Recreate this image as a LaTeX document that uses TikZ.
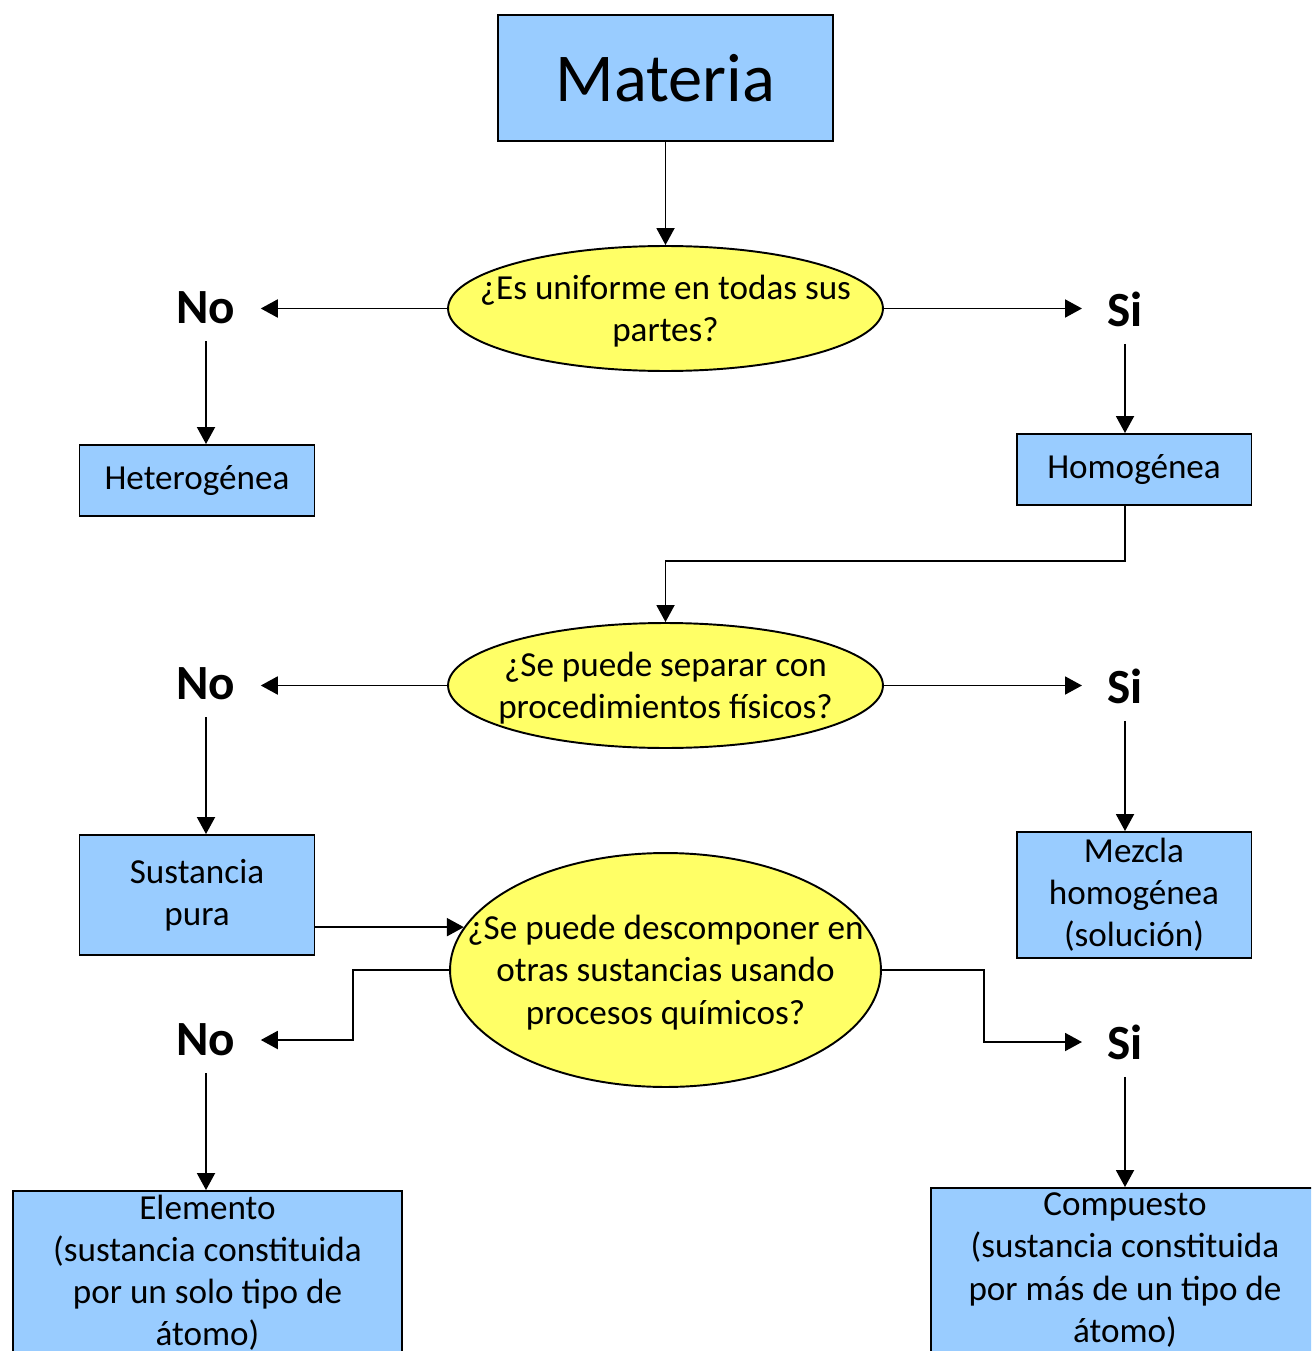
\documentclass[tikz,border=0pt]{standalone}
\usepackage{fontspec}
\setmainfont{Carlito}
\usetikzlibrary{shapes.geometric,arrows.meta}
\definecolor{boxblue}{RGB}{153,204,255}
\definecolor{ovalyellow}{RGB}{255,255,102}

\begin{document}
\begin{tikzpicture}[x=0.02cm,y=-0.02cm,
  box/.style={draw,line width=1.1pt,fill=boxblue,inner sep=0pt,align=center,font=\fontsize{20}{24}\selectfont},
  oval/.style={draw,ellipse,line width=1.1pt,fill=ovalyellow,inner sep=0pt},
  txt/.style={align=center,yshift=-0.05cm,font=\fontsize{20}{24}\selectfont},
  answer/.style={inner xsep=0.5cm,inner ysep=0.34cm,font=\fontsize{28}{34}\selectfont\bfseries},
  arr/.style={line width=1.1pt,-{Triangle[length=0.34cm,width=0.36cm]}}]
  \useasboundingbox (0,0) rectangle (1311,1351);
  \clip (0,0) rectangle (1311,1351);

  \node[name=materia,box,minimum width=6.7cm,minimum height=2.52cm,font=\fontsize{39}{47}\selectfont] at (665.5,78) {Materia};

  \node[name=q1,oval,minimum width=8.7cm,minimum height=2.5cm] at (665.5,308.5) {};
  \node[name=q1t,txt] at (q1) {¿Es uniforme en todas sus\\partes?};
  \draw[arr] (materia) -- (q1);

  \node[name=no1,answer] at (206,308) {No};
  \node[name=si1,answer] at (1125,309) {Si};
  \draw[arr] (q1.west) -- (q1.west -| no1.east);
  \draw[arr] (q1.east) -- (q1.east -| si1.west);

  \node[name=het,box,minimum width=4.7cm,minimum height=1.42cm] at (197,480.5) {Heterogénea};
  \node[name=hom,box,minimum width=4.7cm,minimum height=1.42cm] at (1134,469.5) {Homogénea};
  \draw[arr] (no1.south) -- (no1.south |- het.north);
  \draw[arr] (si1.south) -- (si1.south |- hom.north);

  \node[name=q2,oval,minimum width=8.7cm,minimum height=2.5cm] at (665.5,685.5) {};
  \node[name=q2t,txt] at (q2) {¿Se puede separar con\\procedimientos físicos?};
  \draw[arr] (si1 |- hom.south) -- ++(0,55) -| (q2.north);

  \node[name=no2,answer] at (206,684) {No};
  \node[name=si2,answer] at (1125,686) {Si};
  \draw[arr] (q2.west) -- (q2.west -| no2.east);
  \draw[arr] (q2.east) -- (q2.east -| si2.west);

  \node[name=sus,box,minimum width=4.7cm,minimum height=2.4cm] at (197,895) {Sustancia\\pura};
  \node[name=mez,box,minimum width=4.7cm,minimum height=2.52cm] at (1134,895) {Mezcla\\homogénea\\(solución)};
  \draw[arr] (no2.south) -- (no2.south |- sus.north);
  \draw[arr] (si2.south) -- (si2.south |- mez.north);

  \node[name=q3,oval,minimum width=8.62cm,minimum height=4.68cm] at (665.5,970) {};
  \node[name=q3t,txt] at (q3) {¿Se puede descomponer en\\otras sustancias usando\\procesos químicos?};
  \draw[arr] (q3.168.2 -| sus.east) -- (q3.168.2);

  \node[name=no3,answer] at (206,1040) {No};
  \node[name=si3,answer] at (1125,1042) {Si};
  \draw[arr] (q3.west) -- ++(-96,0) |- (no3.east);
  \draw[arr] (q3.east) -- ++(102,0) |- (si3.west);

  \node[name=elem,box,minimum width=7.78cm,minimum height=3.26cm] at (207.5,1272.5) {Elemento\\(sustancia constituida\\por un solo tipo de\\átomo)};
  \node[name=comp,box,minimum width=7.76cm,minimum height=3.28cm] at (1125,1270) {Compuesto\\(sustancia constituida\\por más de un tipo de\\átomo)};
  \draw[arr] (no3.south) -- (no3.south |- elem.north);
  \draw[arr] (si3.south) -- (si3.south |- comp.north);

\end{tikzpicture}
\end{document}
